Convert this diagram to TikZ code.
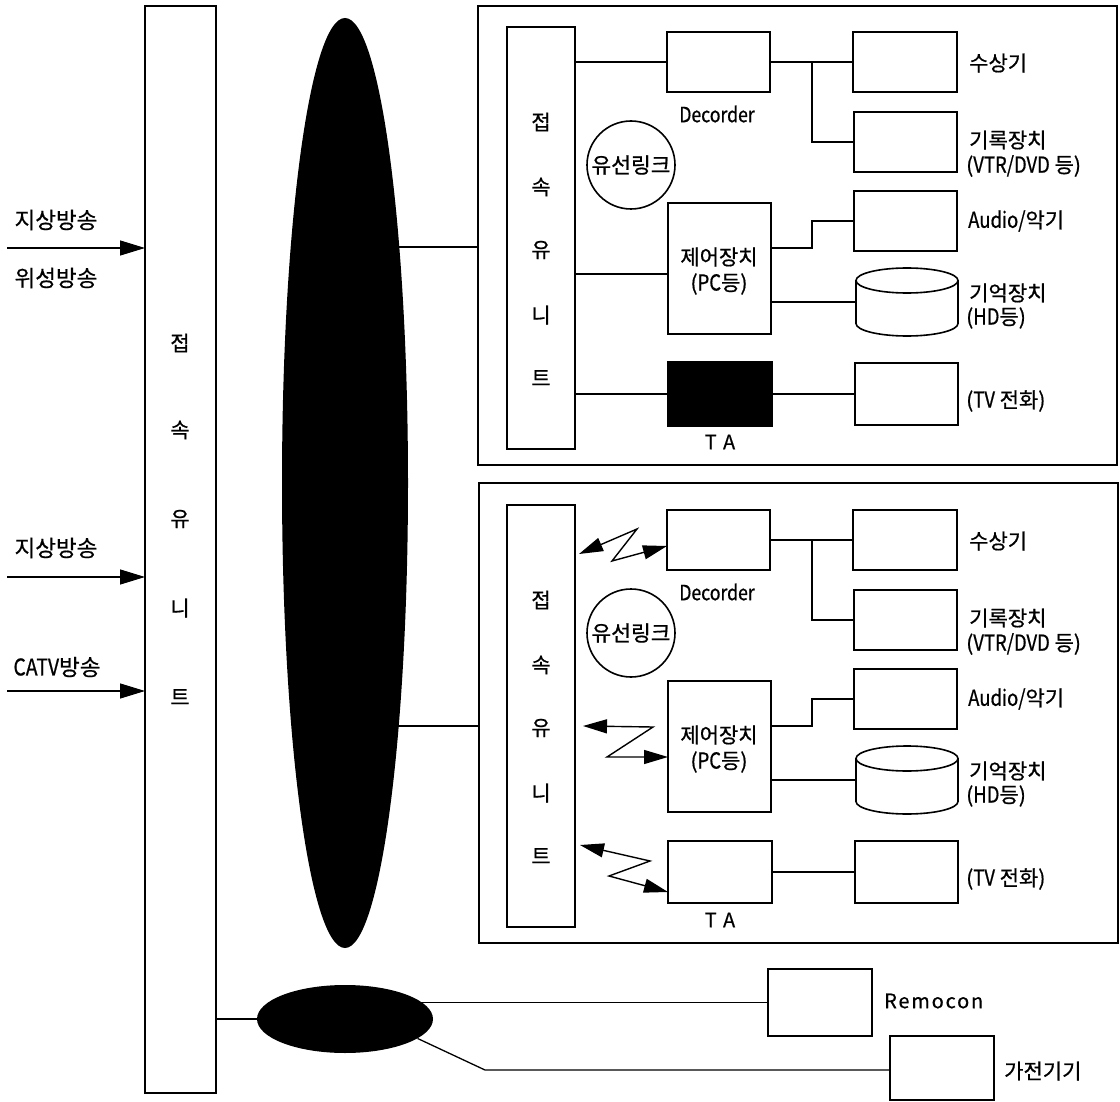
\documentclass[tikz,border=0pt]{standalone}
\usepackage{fontspec}
\setmainfont{Noto Sans CJK KR}[FakeBold=0.7]
\newfontfamily\cond{Noto Sans CJK KR}[FakeStretch=0.84,FakeBold=0.7]
\newfontfamily\spaced{Noto Sans CJK KR}[LetterSpace=9,FakeBold=0.5]
\usetikzlibrary{fit,shapes.geometric,arrows.meta,backgrounds}
\tikzset{
  box/.style={draw, line width=1.6pt, inner sep=0pt, outer sep=0pt},
  conn/.style={line width=1.3pt},
  lbl/.style={inner sep=0pt, font=\fontsize{21pt}{24pt}\selectfont},
  lbig/.style={inner sep=0pt, font=\fontsize{22.5pt}{26pt}\selectfont},
  inarr/.style={line width=1.3pt, -{Triangle[length=25pt,width=15pt]}},
  zz/.style={line width=1.4pt, {Triangle[length=24pt,width=14pt]}-{Triangle[length=24pt,width=14pt]}}
}
\newcommand\cn[1]{{\cond\fontsize{22pt}{24pt}\selectfont #1}}
\newcommand\unitsec[4]{%
\begin{scope}[shift={(0,#2)}]
  \node[box, fit={(507,27) (575,449)}] (#1bar) {};
  \node[lbl] (#1c1) at (541,122) {접};
  \node[lbl] (#1c2) at (541,187) {속};
  \node[lbl] (#1c3) at (541,250) {유};
  \node[lbl] (#1c4) at (541,315) {니};
  \node[lbl] (#1c5) at (541,378) {트};
  \node[box, fit={(667,32) (770,92)}] (#1dec) {};
  \node[lbl] (#1decl) at (717,114) {\cond\fontsize{21pt}{24pt}\selectfont Decorder};
  \node[box, fit={(853,32) (957,92)}] (#1rx) {};
  \node[lbl, anchor=west] (#1rxl) at (969,63) {수상기};
  \node[box, fit={(854,112) (957,172)}] (#1rec) {};
  \node[lbl, anchor=west] (#1recl) at (969,140) {기록장치};
  \node[lbl, anchor=west] (#1recm) at (966,166) {(\cn{VTR/DVD} 등)};
  \node[draw, circle, line width=1.6pt, minimum size=88pt, inner sep=0pt, font=\fontsize{21.5pt}{24pt}\selectfont] (#1link) at (631,#4) {유선링크};
  \node[box, fit={(668,203) (771,334)}] (#1ctrl) {};
  \node[lbl] (#1ctrll) at (719,257) {제어장치};
  \node[lbl] (#1ctrlm) at (719,284) {(\cn{PC}등)};
  \node[box, fit={(854,191) (957,251)}] (#1aud) {};
  \node[lbl, anchor=west] (#1audl) at (968,221) {\cn{Audio/}악기};
  \node[inner sep=0pt, outer sep=0pt, fit={(856,268) (958,336)}] (#1cyl) {};
  \draw[line width=1.6pt] ([yshift=-12.5pt]#1cyl.north west) -- ([yshift=12.5pt]#1cyl.south west)
     arc[start angle=180, end angle=360, x radius=51pt, y radius=12.5pt] -- ([yshift=-12.5pt]#1cyl.north east);
  \draw[line width=1.6pt] ([yshift=-12.5pt]#1cyl.north) ellipse [x radius=51pt, y radius=12.5pt];
  \node[lbl, anchor=west] (#1cyll) at (969,293) {기억장치};
  \node[lbl, anchor=west] (#1cylm) at (966,318) {(\cn{HD}등)};
  \ifnum#3=1
    \node[box, fill=black, fit={(668,362) (772,426)}] (#1ta) {};
  \else
    \node[box, fit={(668,363) (772,425)}] (#1ta) {};
  \fi
  \node[lbl] (#1tal) at (720,442) {\spaced\fontsize{20pt}{24pt}\selectfont T A};
  \node[box, fit={(855,363) (958,425)}] (#1tv) {};
  \node[lbl, anchor=west] (#1tvl) at (966,401) {(\cn{TV} 전화)};
  \coordinate (#1jn) at (812,62);
  \draw[conn] (#1dec.east) -- (#1rx.west);
  \draw[conn] (#1jn) |- (#1rec.west);
  \draw[conn] (#1ctrl.east |- 0,248) -- (#1jn |- 0,248) |- (#1aud.west);
  \draw[conn] (#1ctrl.east |- #1cyl.west) -- (#1cyl.west);
  \draw[conn] (#1ta.east) -- (#1ta.east -| #1tv.west);
  \ifnum#3=1
    \draw[conn] (#1bar.east |- #1dec.west) -- (#1dec.west);
    \draw[conn] (#1bar.east |- 0,274) -- (#1ctrl.west |- 0,274);
    \draw[conn] (#1bar.east |- #1ta.west) -- (#1ta.west);
  \else
    \draw[zz] ([xshift=4pt]#1bar.east |- 0,76) -- (637,51) -- (612,83) -- (#1dec.west |- 0,68);
    \draw[zz] ([xshift=8pt]#1bar.east |- 0,248) -- (653,249) -- (607,279) -- (#1ctrl.west |- 0,279);
    \draw[zz] ([xshift=5pt]#1bar.east |- 0,367) -- (650,383) -- (609,398) -- (#1ta.west |- 0,414);
  \fi
\end{scope}}

\begin{document}
\begin{tikzpicture}[x=1pt, y=-1pt]
  \useasboundingbox (0,0) rectangle (1120,1102);
  % main connection unit
  \node[box, fit={(145,6) (216,1093)}] (mainbar) {};
  \node[lbl] (m1) at (180,343) {접};
  \node[lbl] (m2) at (180,430) {속};
  \node[lbl] (m3) at (180,519) {유};
  \node[lbl] (m4) at (180,608) {니};
  \node[lbl] (m5) at (180,697) {트};
  % inputs
  \coordinate (in1) at (7,248);
  \coordinate (in2) at (7,577);
  \coordinate (in3) at (7,691);
  \draw[inarr] (in1) -- (in1 -| mainbar.west);
  \draw[inarr] (in2) -- (in2 -| mainbar.west);
  \draw[inarr] (in3) -- (in3 -| mainbar.west);
  \node[lbig] (l1) at (56,220) {지상방송};
  \node[lbig] (l2) at (56,278) {위성방송};
  \node[lbig] (l3) at (56,548) {지상방송};
  \node[lbig] (l4) at (57,667) {{\cond\fontsize{23pt}{26pt}\selectfont CATV}방송};
  % network ellipses
  \node[ellipse, fill=black, minimum width=126pt, minimum height=930pt, inner sep=0pt] (bigE) at (345,483) {};
  \node[ellipse, fill=black, minimum width=176pt, minimum height=68pt, inner sep=0pt] (smE) at (345,1019) {};
  % outer boxes
  \node[box, line width=1.8pt, fit={(478,6) (1117,465)}] (topbox) {};
  \node[box, line width=1.8pt, fit={(479,483) (1118,943)}] (botbox) {};
  \unitsec{a}{0}{1}{165}
  \unitsec{b}{478}{0}{155}
  % remote and appliances
  \node[box, fit={(768,969) (872,1036)}] (rem) {};
  \node[lbl, anchor=west] (reml) at (884,1001) {\spaced\fontsize{20pt}{24pt}\selectfont Remocon};
  \node[box, fit={(890,1036) (994,1100)}] (ge) {};
  \node[lbl, anchor=west] (gel) at (1004,1071) {가전기기};
  \coordinate (bend) at (485,1070);
  \begin{scope}[on background layer]
    \draw[conn] (bigE.center |- 0,247) -- (topbox.west |- 0,247);
    \draw[conn] (bigE.center |- 0,726) -- (botbox.west |- 0,726);
    \draw[conn] (smE.center |- rem.west) -- (rem.west);
  \end{scope}
  \draw[conn] (mainbar.east |- smE.west) -- (smE.west);
  \draw[conn] (smE.-15) -- (bend) -- (bend -| ge.west);
\end{tikzpicture}
\end{document}
